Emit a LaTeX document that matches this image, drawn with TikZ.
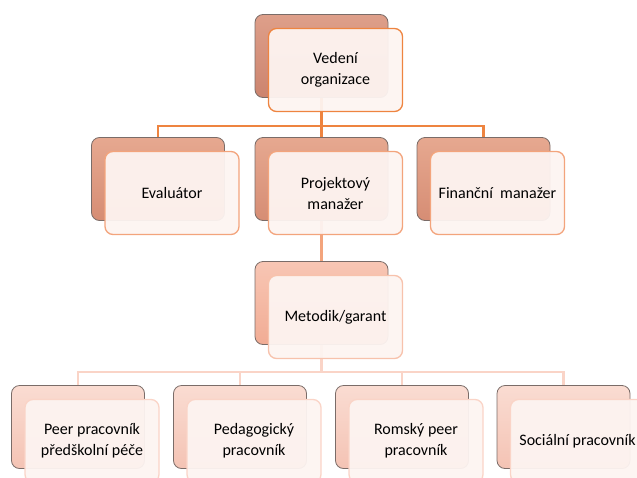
\documentclass[tikz,border=0pt]{standalone}
\usepackage{fontspec}
\setmainfont{Carlito}
\usepackage{xcolor}
\usepackage{tikz}
\usetikzlibrary{calc,backgrounds}

\definecolor{edgegray}{HTML}{7A6C68}
\definecolor{frontfill}{HTML}{FDF4F1}
\definecolor{topA}{HTML}{DE9F8A}
\definecolor{botA}{HTML}{CC846E}
\definecolor{topB}{HTML}{E6A890}
\definecolor{botB}{HTML}{D68D74}
\definecolor{topC}{HTML}{F8C6B4}
\definecolor{botC}{HTML}{F1AC94}
\definecolor{topD}{HTML}{FADCD2}
\definecolor{botD}{HTML}{F4C3B4}
\definecolor{lineA}{HTML}{EE8440}
\definecolor{lineB}{HTML}{F3A47C}
\definecolor{lineC}{HTML}{F7C2AC}
\definecolor{lineD}{HTML}{FAD4C7}

\begin{document}
\begin{tikzpicture}
[x = 1pt, y = -1pt,
 backbox/.style = {draw = edgegray, line width = 0.8pt, rounded corners = 8pt,
                   minimum width = 133pt, minimum height = 83pt, inner sep = 0pt},
 frontbox/.style = {fill = frontfill, fill opacity = 0.95, text opacity = 1,
                    line width = 1.3pt, rounded corners = 8pt, align = center,
                    minimum width = 134pt, minimum height = 83pt, inner sep = 0pt,
                    font = \fontsize{16}{21}\selectfont},
 bus/.style = {line width = 2.6pt}]

\useasboundingbox (0,0) rectangle (637,477);

% top level
\node (Vb) [backbox, top color = topA, bottom color = botA] at (321.5,56) {};
\node (V) [frontbox, draw = lineA] at ($(Vb)+(14,14)$) {Vedení\\organizace};

% second level
\node (Eb) [backbox, top color = topB, bottom color = botB] at (158,179) {};
\node (E) [frontbox, draw = lineB] at ($(Eb)+(14,14)$) {Evaluátor};

\node (Pb) [backbox, top color = topB, bottom color = botB] at (321.5,179) {};
\node (P) [frontbox, draw = lineB] at ($(Pb)+(14,14)$) {Projektový\\manažer};

\node (Fb) [backbox, top color = topB, bottom color = botB] at (483.5,179) {};
\node (F) [frontbox, draw = lineB] at ($(Fb)+(14,14)$) {Finanční\ \ manažer};

% third level
\node (Mb) [backbox, top color = topC, bottom color = botC] at (321.5,303) {};
\node (M) [frontbox, draw = lineC] at ($(Mb)+(14,14)$) {Metodik/garant};

% bottom level
\node (W1b) [backbox, top color = topD, bottom color = botD] at (78,427) {};
\node (W1) [frontbox, draw = lineD] at ($(W1b)+(14,14)$) {Peer pracovník\\předškolní péče};

\node (W2b) [backbox, top color = topD, bottom color = botD] at (240,427) {};
\node (W2) [frontbox, draw = lineD] at ($(W2b)+(14,14)$) {Pedagogický\\pracovník};

\node (W3b) [backbox, top color = topD, bottom color = botD] at (402,427) {};
\node (W3) [frontbox, draw = lineD] at ($(W3b)+(14,14)$) {Romský peer\\pracovník};

\node (W4b) [backbox, top color = topD, bottom color = botD] at (563.5,427) {};
\node (W4) [frontbox, draw = lineD] at ($(W4b)+(14,14)$) {Sociální pracovník};

\coordinate (bus1) at (321.5,126);
\coordinate (bus2) at (321.5,372);

\begin{scope}[on background layer]
\draw[bus, lineA] (Vb.south) -- (bus1);
\draw[bus, lineA] (bus1) -| (Eb.north);
\draw[bus, lineA] (bus1) -| (Fb.north);
\draw[bus, lineA] (bus1) -- (Pb.north);

\draw[bus, lineB] (Pb.south) -- (Mb.north);

\draw[bus, lineD] (Mb.south) -- (bus2);
\draw[bus, lineD] (bus2) -| (W1b.north);
\draw[bus, lineD] (bus2) -| (W2b.north);
\draw[bus, lineD] (bus2) -| (W3b.north);
\draw[bus, lineD] (bus2) -| (W4b.north);
\end{scope}

\end{tikzpicture}
\end{document}
